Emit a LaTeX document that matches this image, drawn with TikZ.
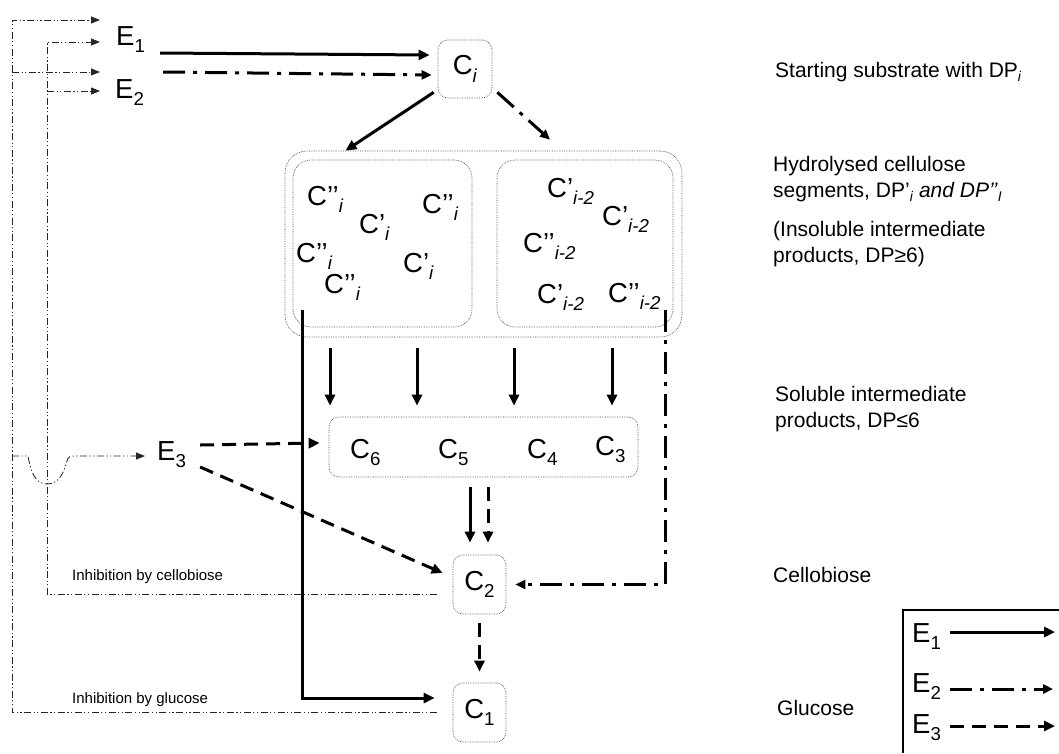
\documentclass[tikz,border=0pt]{standalone}
\usepackage{fontspec}
\setmainfont{Liberation Sans}
\usetikzlibrary{arrows.meta}
% lowered, reduced subscript as set by a word processor
\newcommand{\sbs}[1]{\raisebox{-0.27em}{\scalebox{0.68}{#1}}}
\newcommand{\Cs}[1]{C\sbs{\textit{#1}}}
\begin{document}
\begin{tikzpicture}[x=1pt,y=-1pt,
  big/.style={font=\fontsize{27.5}{32}\selectfont,inner sep=0pt},
  note/.style={font=\fontsize{21}{26}\selectfont,inner sep=0pt,anchor=base west,align=left},
  small/.style={font=\fontsize{15}{17}\selectfont,inner sep=0pt,anchor=base west},
  pool/.style={draw=black!70,densely dotted,line width=0.7pt,rounded corners=10pt,inner sep=0pt},
  e1/.style={line width=3pt,-{Triangle[length=11pt,width=10pt]}},
  e2/.style={line width=3pt,dash pattern=on 22pt off 8pt on 4pt off 8pt,-{Triangle[length=10pt,width=9pt]}},
  e3/.style={line width=3pt,dash pattern=on 14pt off 8pt,-{Triangle[length=11pt,width=10pt]}},
  fb/.style={line width=0.85pt,black!85,dash pattern=on 7pt off 2.5pt on 1.2pt off 2.5pt on 1.2pt off 2.5pt},
  fbtip/.style={-{Triangle[length=9pt,width=7pt]}}
]
\useasboundingbox (0,0) rectangle (1059,753);

% enzymes
\node[big,anchor=base west] (E1) at (116,45) {E\sbs{1}};
\node[big,anchor=base west] (E2) at (115,98) {E\sbs{2}};
\node[big,anchor=base west] (E3) at (157,460) {E\sbs{3}};

% substrate and product pools
\node[pool,minimum width=54,minimum height=58] (Ci) at (465,69) {};
\node[big] (Cilab) at (Ci) {\Cs{i}};
\node[pool,rounded corners=22pt,minimum width=397,minimum height=186] (seg) at (483.5,244) {};
\node[pool,rounded corners=18pt,minimum width=179,minimum height=167] (segL) at (382.5,243.5) {};
\node[pool,rounded corners=18pt,minimum width=176,minimum height=167] (segR) at (585,243.5) {};
\node[pool,minimum width=309,minimum height=60] (sol) at (483.5,447) {};
\node[pool,minimum width=53,minimum height=59] (C2) at (479.5,584.5) {};
\node[big] (C2lab) at (C2) {C\sbs{2}};
\node[pool,minimum width=53,minimum height=59] (C1) at (479.5,712.5) {};
\node[big] (C1lab) at (C1) {C\sbs{1}};

% fragments in the left segment pool
\node[big,anchor=base west] (L1) at (307,205) {C’’\sbs{\textit{i}}};
\node[big,anchor=base west] (L2) at (359,233) {C’\sbs{\textit{i}}};
\node[big,anchor=base west] (L3) at (422,213) {C’’\sbs{\textit{i}}};
\node[big,anchor=base west] (L4) at (296,262) {C’’\sbs{\textit{i}}};
\node[big,anchor=base west] (L5) at (324,293) {C’’\sbs{\textit{i}}};
\node[big,anchor=base west] (L6) at (403,272) {C’\sbs{\textit{i}}};
% fragments in the right segment pool
\node[big,anchor=base west] (R1) at (547,197) {C’\sbs{\textit{i-2}}};
\node[big,anchor=base west] (R2) at (602,225) {C’\sbs{\textit{i-2}}};
\node[big,anchor=base west] (R3) at (523,252) {C’’\sbs{\textit{i-2}}};
\node[big,anchor=base west] (R4) at (537,303) {C’\sbs{\textit{i-2}}};
\node[big,anchor=base west] (R5) at (608,302) {C’’\sbs{\textit{i-2}}};
% soluble oligomers
\node[big,anchor=base west] (C6) at (350,458) {C\sbs{6}};
\node[big,anchor=base west] (C5) at (438,458) {C\sbs{5}};
\node[big,anchor=base west] (C4) at (527,458) {C\sbs{4}};
\node[big,anchor=base west] (C3) at (595,455) {C\sbs{3}};

% descriptions
\node[note] (dSub) at (775,77) {Starting substrate with DP{\fontsize{14}{14}\selectfont\raisebox{-0.3em}{\textit{i}}}};
\node[note] (dSeg) at (773,197) {Hydrolysed cellulose\\segments, DP’{\fontsize{14}{14}\selectfont\raisebox{-0.3em}{\textit{i}}} \textit{and DP’’}{\fontsize{14}{14}\selectfont\raisebox{-0.3em}{\textit{I}}}};
\node[note] (dIns) at (773,262) {(Insoluble intermediate\\products, DP≥6)};
\node[note] (dSol) at (775,427) {Soluble intermediate\\products, DP≤6};
\node[note] (dC2) at (773,582) {Cellobiose};
\node[note] (dC1) at (777,715) {Glucose};
\node[small] (iC2) at (72,580) {Inhibition by cellobiose};
\node[small] (iC1) at (72,703) {Inhibition by glucose};

% enzyme attack on the substrate
\draw[e1] ([xshift=15,yshift=-8]E1.base east) -- ([xshift=-8,yshift=14]Ci.west);
\draw[e2] ([xshift=19,yshift=26]E2.base east) -- ([xshift=-6,yshift=-6]Ci.west);
\draw[e1] ([xshift=-4,yshift=6]Ci.south west) -- ([xshift=-138]seg.north);
\draw[e2] ([xshift=5,yshift=6]Ci.south east) -- ([xshift=66.5,yshift=11]seg.north);

% segments to soluble products
\foreach \dx in {-153.5,-66.5,30.5,128.5}
  \draw[e1] ([xshift=\dx,yshift=-11]seg.south) -- ([xshift=\dx,yshift=11]sol.north);
\draw[e1] ([xshift=-13.5,yshift=-10]sol.south) -- ([xshift=-9.5,yshift=12]C2.north);
\draw[e3] ([xshift=4.5,yshift=-10]sol.south) -- ([xshift=8.5,yshift=12]C2.north);
\draw[e3] ([yshift=-9]C2.south) -- ([yshift=11]C1.north);
\draw[e2] ([xshift=-8,yshift=17]segR.south east) |- ([xshift=9]C2.east);
\draw[e1] ([xshift=10,yshift=17]segL.south west) |- ([xshift=-18,yshift=14.5]C1.west);

% E3 attack
\draw[e3] ([xshift=14,yshift=15]E3.base east) -- ([xshift=-9,yshift=4]sol.west);
\draw[e3] ([xshift=14,yshift=-7]E3.base east) -- ([xshift=-10,yshift=11.5]C2.west);

% product inhibition feedback
\coordinate (gl) at ([xshift=-16]C1.west);
\coordinate (cb) at ([xshift=-16,yshift=-9.5]C2.west);
\coordinate (gT) at (100,20);
\coordinate (gE2) at (100,72);
\coordinate (cE1) at (100,42);
\coordinate (cE2) at (100,91);
\coordinate (gE3) at (145,456);
\draw[fb,fbtip] (gl) -| (12,20) -- (gT);
\draw[fb,fbtip] (12,72) -- (gE2);
\draw[fb,fbtip] (cb) -| (47,42) -- (cE1);
\draw[fb,fbtip] (47,91) -- (cE2);
\draw[fb,fbtip] (12,456) -- (28,456) .. controls (31,472) and (35,484) .. (47,484)
  .. controls (60,484) and (64,471) .. (67,461) .. controls (68,457) and (70,456) .. (74,456) -- (gE3);

% legend
\draw[line width=1.1pt] (903,753) -- (903,610) -- (1059,610);
\node[big,anchor=base west] (lE1) at (912,642) {E\sbs{1}};
\node[big,anchor=base west] (lE2) at (912,692) {E\sbs{2}};
\node[big,anchor=base west] (lE3) at (912,733) {E\sbs{3}};
\coordinate (lT1) at (1055,632);
\coordinate (lT2) at (1053,689);
\coordinate (lT3) at (1055,726);
\draw[e1] (950,632) -- (lT1);
\draw[e2] (950,689) -- (lT2);
\draw[e3] (950,726) -- (lT3);
\end{tikzpicture}
\end{document}
